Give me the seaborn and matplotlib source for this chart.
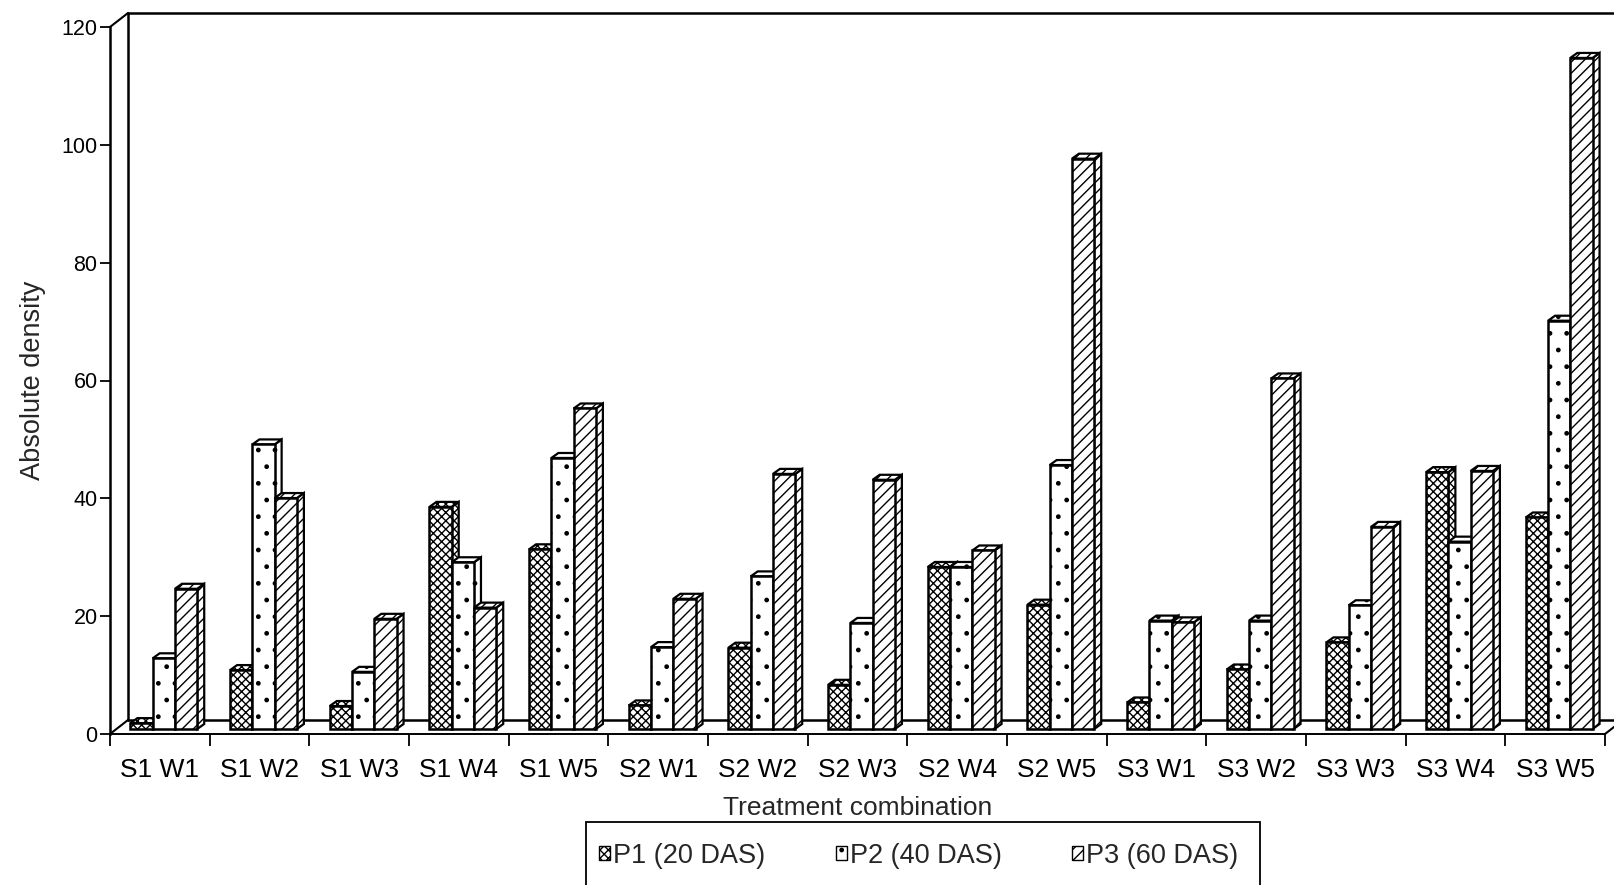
import numpy as np
import pandas as pd
import matplotlib
matplotlib.use("Agg")
import matplotlib.pyplot as plt
import seaborn as sns
from matplotlib.patches import Polygon, Rectangle, Patch
from matplotlib.lines import Line2D
from matplotlib.transforms import ScaledTranslation

# ---- data -------------------------------------------------------------
categories = ["S1 W1", "S1 W2", "S1 W3", "S1 W4", "S1 W5",
              "S2 W1", "S2 W2", "S2 W3", "S2 W4", "S2 W5",
              "S3 W1", "S3 W2", "S3 W3", "S3 W4", "S3 W5"]
periods = ["P1 (20 DAS)", "P2 (40 DAS)", "P3 (60 DAS)"]
p1_20das = [1.0, 10.0, 3.9, 37.7, 30.5, 4.0, 13.8, 7.5, 27.5, 21.1, 4.5, 10.1, 14.7, 43.6, 35.9]
p2_40das = [12.0, 48.3, 9.7, 28.3, 46.0, 13.9, 25.9, 18.0, 27.5, 44.8, 18.4, 18.4, 21.0, 31.8, 69.3]
p3_60das = [23.8, 39.2, 18.7, 20.6, 54.4, 22.1, 43.3, 42.3, 30.3, 96.8, 18.1, 59.5, 34.3, 43.8, 113.9]
y_ticks = [0, 20, 40, 60, 80, 100, 120]
hatches = ["xxxx", ".", "///"]

df = pd.DataFrame({
    "treatment": categories * 3,
    "period": np.repeat(periods, len(categories)),
    "density": p1_20das + p2_40das + p3_60das,
})

# ---- style ------------------------------------------------------------
sns.set_style("white")
plt.rcParams["font.family"] = ["Liberation Sans", "DejaVu Sans"]
plt.rcParams["hatch.linewidth"] = 1.0
plt.rcParams["hatch.color"] = "black"

W, H = 1614, 885
DPI = 100
fig = plt.figure(figsize=(W / DPI, H / DPI), dpi=DPI)
fig.patch.set_facecolor("white")

ax_left, ax_right, ax_top, ax_bottom = 110, 1605, 27, 734
ax = fig.add_axes([ax_left / W, 1 - ax_bottom / H,
                   (ax_right - ax_left) / W, (ax_bottom - ax_top) / H])

sns.barplot(data=df, x="treatment", y="density", hue="period",
            order=categories, hue_order=periods, width=0.67,
            palette={p: "white" for p in periods}, saturation=1,
            edgecolor="black", linewidth=1.8, errorbar=None,
            legend=False, ax=ax)

ax.set_xlim(-0.5, len(categories) - 0.5)
ax.set_ylim(0, 120)

px_x = (ax_right - ax_left) / len(categories)
px_y = (ax_bottom - ax_top) / 120.0

# ---- 3-D look for the columns ----------------------------------------
for hatch, container in zip(hatches, ax.containers):
    for bar in container:
        bar.set_hatch(hatch)

bar_shift = ax.transData + ScaledTranslation(4 / DPI, 5 / DPI, fig.dpi_scale_trans)
ddx = 7 / px_x
ddy = 5 / px_y
bars = sorted([b for c in ax.containers for b in c], key=lambda b: b.get_x())
for k, bar in enumerate(bars):
    x, w, h = bar.get_x(), bar.get_width(), bar.get_height()
    hatch = bar.get_hatch()
    z = 3 + k * 0.01
    bar.set_transform(bar_shift)
    bar.set_zorder(z + 0.005)
    bar.set_clip_on(False)
    top = Polygon([(x, h), (x + w, h), (x + w + ddx, h + ddy), (x + ddx, h + ddy)],
                  closed=True, facecolor="white", edgecolor="black", lw=1.6,
                  hatch=hatch, transform=bar_shift, zorder=z, clip_on=False)
    side = Polygon([(x + w, 0), (x + w + ddx, ddy), (x + w + ddx, h + ddy), (x + w, h)],
                   closed=True, facecolor="white", edgecolor="black", lw=1.6,
                   hatch=hatch, transform=bar_shift, zorder=z, clip_on=False)
    ax.add_patch(side)
    ax.add_patch(top)

# ---- back wall and floor ---------------------------------------------
wall = ax.transData + ScaledTranslation(18 / DPI, 14 / DPI, fig.dpi_scale_trans)
x0, x1 = -0.5, len(categories) - 0.5
for xs, ys in [([x0, x1 + 0.3], [120, 120]),
               ([x0, x0], [0, 120]),
               ([x0, x1], [0, 0])]:
    ax.add_line(Line2D(xs, ys, transform=wall, color="black", lw=1.8,
                       clip_on=False, zorder=1))

to_fig = fig.transFigure.inverted()
for pt in [(x0, 120), (x0, 0), (x1, 0)]:
    a = ax.transData.transform(pt)
    b = wall.transform(pt)
    fa, fb = to_fig.transform(a), to_fig.transform(b)
    fig.add_artist(Line2D([fa[0], fb[0]], [fa[1], fb[1]], color="black",
                          lw=1.5, transform=fig.transFigure, clip_on=False))

# ---- axes, ticks, labels ---------------------------------------------
for s in ["top", "right"]:
    ax.spines[s].set_visible(False)
ax.spines["left"].set_linewidth(1.8)
ax.spines["left"].set_color("black")
ax.spines["bottom"].set_linewidth(1.4)
ax.spines["bottom"].set_color("black")

ax.set_yticks(y_ticks)
ax.set_yticklabels([str(v) for v in y_ticks], fontsize=15.5)
ax.tick_params(axis="y", which="major", left=True, direction="out",
               length=7, width=1.3, pad=2, colors="black")

ax.set_xticks(range(len(categories)))
ax.set_xticklabels(categories, fontsize=19)
ax.set_xticks(np.arange(-0.5, len(categories), 1), minor=True)
ax.tick_params(axis="x", which="major", length=0, pad=17, colors="black")
ax.tick_params(axis="x", which="minor", bottom=True, direction="out",
               length=8.6, width=1.3, colors="black")

ax.set_xlabel("Treatment combination", fontsize=19)
ax.xaxis.set_label_coords(0.5, -(808 - ax_bottom) / (ax_bottom - ax_top))
ax.xaxis.label.set_va("center")
ax.set_ylabel("Absolute density", fontsize=19.5)
ax.yaxis.set_label_coords((33 - ax_left) / (ax_right - ax_left), 0.5)
ax.yaxis.label.set_va("center")

# ---- legend -----------------------------------------------------------
handles = [Patch(facecolor="white", edgecolor="black", hatch=h, lw=1.0) for h in hatches]
fig.legend(handles, periods, loc="center", bbox_to_anchor=(919 / W, 1 - 856 / H),
           ncol=3, frameon=False, fontsize=19.5, handlelength=0.4,
           handleheight=0.4, handletextpad=0.12, columnspacing=2.6)
fig.add_artist(Rectangle((586 / W, -0.05), (1260 - 586) / W, (1 - 822 / H) + 0.05,
                         transform=fig.transFigure, fill=False, edgecolor="black",
                         lw=1.3, clip_on=False))

fig.savefig("out.png", dpi=DPI, facecolor="white")
